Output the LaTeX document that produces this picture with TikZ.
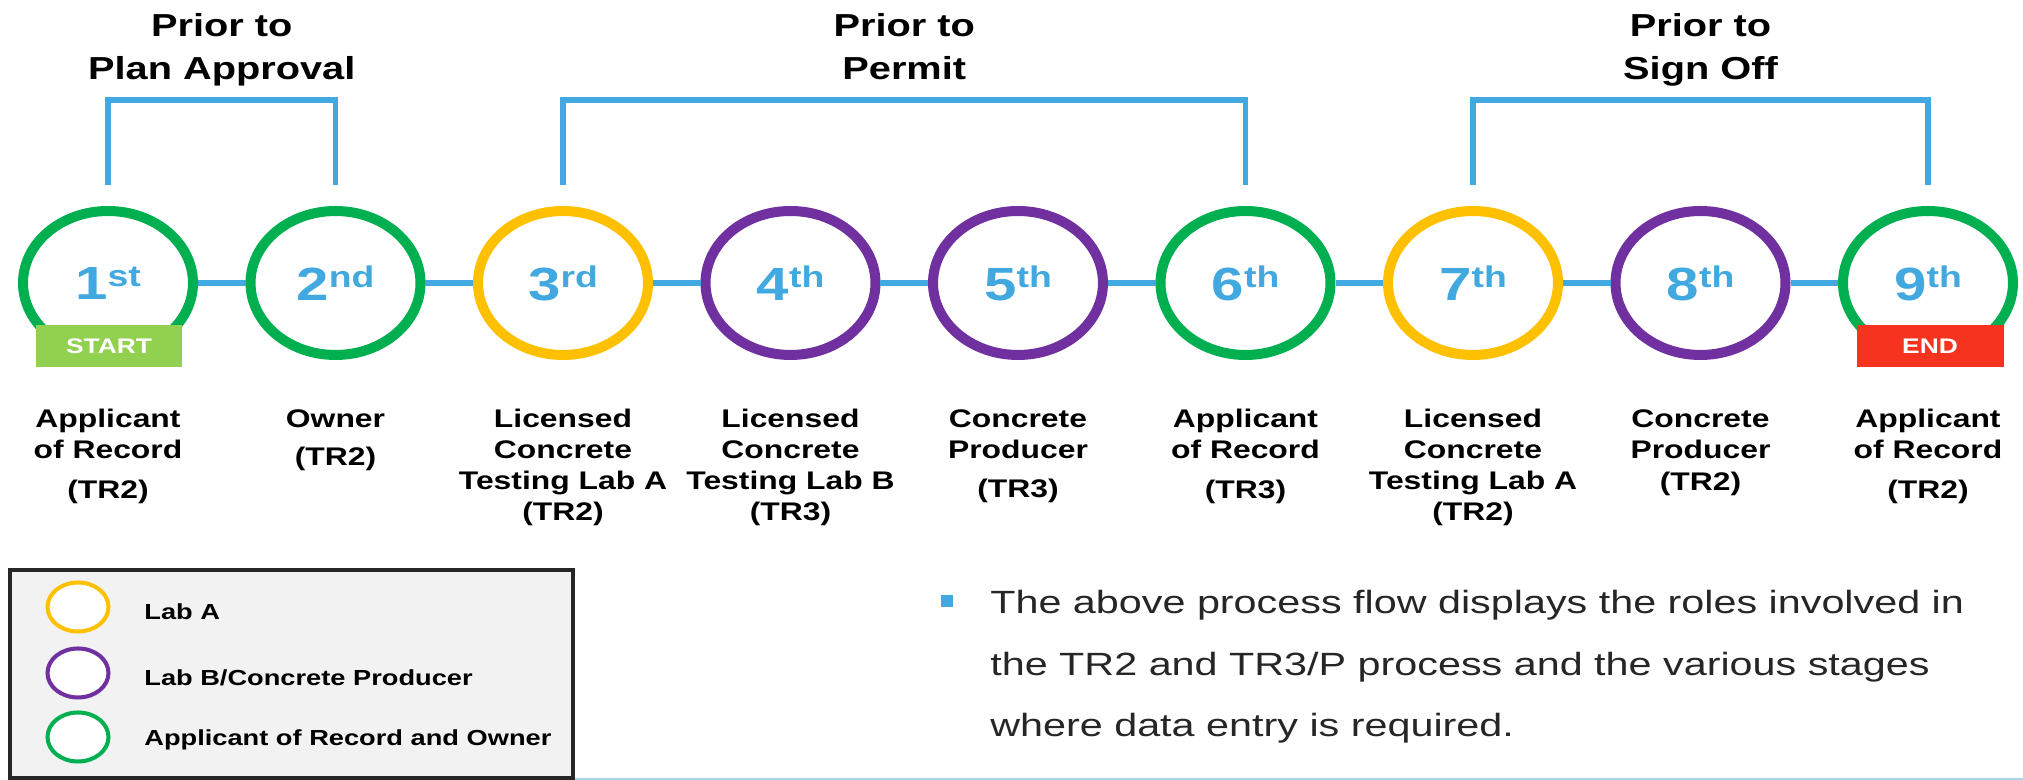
\documentclass[tikz,border=0pt]{standalone}
\usepackage{fontspec}
\setmainfont[FakeStretch=1.25]{Liberation Sans}
\newfontfamily\notefont[FakeStretch=1.285]{Liberation Sans}
\usetikzlibrary{shapes.geometric,positioning}

\definecolor{flowblue}{RGB}{65,168,224}
\definecolor{rolegreen}{RGB}{0,176,80}
\definecolor{labyellow}{RGB}{255,192,0}
\definecolor{labpurple}{RGB}{112,48,160}
\definecolor{startgreen}{RGB}{146,208,80}
\definecolor{endred}{RGB}{245,51,31}
\definecolor{legendgray}{RGB}{242,242,242}
\definecolor{rulecyan}{RGB}{168,214,232}

\newcommand{\stagenum}[2]{#1\raisebox{7.4pt}{\fontsize{17}{17}\selectfont #2}}

\begin{document}
\begin{tikzpicture}[x=0.02cm,y=0.02cm,
		stage/.style={ellipse,draw=#1,line width=5.7pt,fill=white,inner sep=0pt,
			minimum width=3.4cm,minimum height=2.88cm,text=flowblue,
			font=\bfseries\fontsize{26.5}{26.5}\selectfont},
		link/.style={flowblue,line width=3.4pt},
		flag/.style={fill=#1,text=white,inner sep=0pt,minimum width=2.94cm,
			minimum height=0.84cm,font=\bfseries\fontsize{12}{12}\selectfont},
		role/.style={anchor=north,align=center,inner sep=0pt,
			font=\bfseries\fontsize{14.5}{17.6}\selectfont},
		phase/.style={anchor=north,align=center,inner sep=0pt,
			font=\bfseries\fontsize{18.1}{24.4}\selectfont},
		key/.style={ellipse,draw=#1,line width=2.3pt,fill=white,inner sep=0pt,
			minimum width=1.22cm,minimum height=0.98cm},
		keytext/.style={inner sep=0pt,font=\bfseries\fontsize{12.4}{14}\selectfont}]
		\useasboundingbox (0,0) rectangle (2023,780);

		% Stages
		\node[stage=rolegreen] (c1) at (108,497) {\stagenum{1}{st}};
		\node[stage=rolegreen] (c2) at (335.5,497) {\stagenum{2}{nd}};
		\node[stage=labyellow] (c3) at (563,497) {\stagenum{3}{rd}};
		\node[stage=labpurple] (c4) at (790.5,497) {\stagenum{4}{th}};
		\node[stage=labpurple] (c5) at (1018,497) {\stagenum{5}{th}};
		\node[stage=rolegreen] (c6) at (1245.5,497) {\stagenum{6}{th}};
		\node[stage=labyellow] (c7) at (1473,497) {\stagenum{7}{th}};
		\node[stage=labpurple] (c8) at (1700.5,497) {\stagenum{8}{th}};
		\node[stage=rolegreen] (c9) at (1928,497) {\stagenum{9}{th}};

		% Flow
		\draw[link] (c1) -- (c2);
		\draw[link] (c2) -- (c3);
		\draw[link] (c3) -- (c4);
		\draw[link] (c4) -- (c5);
		\draw[link] (c5) -- (c6);
		\draw[link] (c6) -- (c7);
		\draw[link] (c7) -- (c8);
		\draw[link] (c8) -- (c9);

		% Start and end tags
		\node[flag=startgreen] (start) at (109,434) {START};
		\node[flag=endred] (end) at (1930,434) {END};

		% Phase brackets
		\draw[link] ([yshift=0.42cm]c1.north) -- ++(0,1.7cm) -| ([yshift=0.42cm]c2.north);
		\draw[link] ([yshift=0.42cm]c3.north) -- ++(0,1.7cm) -| ([yshift=0.42cm]c6.north);
		\draw[link] ([yshift=0.42cm]c7.north) -- ++(0,1.7cm) -| ([yshift=0.42cm]c9.north);
		\node[phase] (p1) at (221.75,767) {Prior to\\Plan Approval};
		\node[phase] (p2) at (904.25,767) {Prior to\\Permit};
		\node[phase] (p3) at (1700.5,767) {Prior to\\Sign Off};

		% Roles
		\node[role] (r1) at (108,371) {Applicant\\of Record\\[5pt](TR2)};
		\node[role] (r2) at (335.5,371) {Owner\\[4pt](TR2)};
		\node[role] (r3) at (563,371) {Licensed\\Concrete\\Testing Lab A\\(TR2)};
		\node[role] (r4) at (790.5,371) {Licensed\\Concrete\\Testing Lab B\\(TR3)};
		\node[role] (r5) at (1018,371) {Concrete\\Producer\\[5pt](TR3)};
		\node[role] (r6) at (1245.5,371) {Applicant\\of Record\\[5pt](TR3)};
		\node[role] (r7) at (1473,371) {Licensed\\Concrete\\Testing Lab A\\(TR2)};
		\node[role] (r8) at (1700.5,371) {Concrete\\Producer\\[1pt](TR2)};
		\node[role] (r9) at (1928,371) {Applicant\\of Record\\[5pt](TR2)};

		% Legend
		\draw[line width=2.3pt,fill=legendgray,draw=black!85] (10,210) rectangle (573,2);
		\node[key=labyellow] (ka) at (78,173) {};
		\node[key=labpurple] (kb) at (78,107) {};
		\node[key=rolegreen] (kc) at (78,43) {};
		\node[keytext,right=0.67cm of ka,yshift=-0.1cm] (ta) {Lab A};
		\node[keytext,right=0.67cm of kb,yshift=-0.1cm] (tb) {Lab B/Concrete Producer};
		\node[keytext,right=0.67cm of kc,yshift=-0.05cm] (tc) {Applicant of Record and Owner};

		% Note
		\node[fill=flowblue,inner sep=0pt,minimum size=0.24cm] (dot) at (946.5,178.5) {};
		\node[anchor=north west,align=left,inner sep=0pt,text=black!85,
			font=\notefont\fontsize{18.3}{35.1}\selectfont] (note) at (990,190)
			{The above process flow displays the roles involved in\\the TR2 and TR3/P process and the various stages\\where data entry is required.};
		\draw[rulecyan,line width=1.1pt] (575,1) -- (2023,1);
	\end{tikzpicture}
\end{document}
